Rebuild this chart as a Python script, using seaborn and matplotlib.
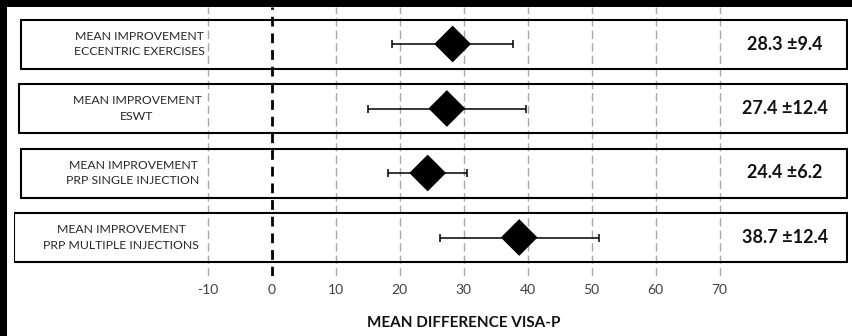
import matplotlib
matplotlib.use("Agg")
import matplotlib.pyplot as plt
from matplotlib.patches import Rectangle
import seaborn as sns
import pandas as pd

# Forest-style summary of mean VISA-P improvement per treatment
treatments = ["ECCENTRIC EXERCISES", "ESWT", "PRP SINGLE INJECTION", "PRP MULTIPLE INJECTIONS"]
mean_diff = [28.3, 27.4, 24.4, 38.7]
sd_diff = [9.4, 12.4, 6.2, 12.4]
x_ticks = [-10, 0, 10, 20, 30, 40, 50, 60, 70]
row_title = "MEAN IMPROVEMENT"
x_label = "MEAN DIFFERENCE VISA-P"

df = pd.DataFrame({"treatment": treatments, "mean": mean_diff, "sd": sd_diff})
df["row"] = range(len(df))

sns.set_theme(style="white")
plt.rcParams["font.family"] = ["Lato", "DejaVu Sans"]

W, H = 852, 336
fig = plt.figure(figsize=(W / 100, H / 100), dpi=100)
fig.patch.set_facecolor("white")

# plotting area, in pixels from the top-left corner
ax_l, ax_r, ax_t, ax_b = 14, 848, 7, 276
ax = fig.add_axes([ax_l / W, 1 - ax_b / H, (ax_r - ax_l) / W, (ax_b - ax_t) / H])
ax.set_facecolor("none")

px_per_unit = 6.4
zero_px = 271.5
row_px = 64.5
first_row_px = 44


def px_to_x(px):
    return (px - zero_px) / px_per_unit


# dashed reference grid and the zero line
for t in x_ticks:
    if t == 0:
        ax.axvline(t, color="black", lw=2.0, ls=(0, (3.5, 2.5)), zorder=1)
    else:
        ax.axvline(t, color="#a8a8a8", lw=1.0, ls=(0, (6, 3)), zorder=0)

# whiskers (± SD) and diamonds for the means
ax.errorbar(df["mean"], df["row"], xerr=df["sd"], fmt="none", ecolor="black",
            elinewidth=1.1, capsize=3, capthick=1.1, zorder=3)
sns.scatterplot(data=df, x="mean", y="row", marker="D", s=350, color="black",
                edgecolor="none", linewidth=0, zorder=4, ax=ax, legend=False)

# one framed panel per treatment
box_left_px = [21, 19, 21, 14]
box_right_px = 847
box_h = 49 / row_px
label_center_px = [139, 137, 133, 121]
value_center_px = 785
for i, row in df.iterrows():
    x0 = px_to_x(box_left_px[i])
    ax.add_patch(Rectangle((x0, row["row"] - box_h / 2), px_to_x(box_right_px) - x0, box_h,
                           fill=False, edgecolor="black", lw=1.5, zorder=2))
    ax.text(px_to_x(label_center_px[i]), row["row"], f"{row_title}\n{row['treatment']}",
            ha="center", va="center", fontsize=8.8, color="#262626", linespacing=1.5, zorder=5)
    ax.text(px_to_x(value_center_px), row["row"], f"{row['mean']:.1f} \u00b1{row['sd']:.1f}",
            ha="center", va="center", fontsize=13, fontweight="bold", color="#111111", zorder=5)

ax.set_xlim(px_to_x(ax_l), px_to_x(ax_r))
ax.set_ylim((ax_b - first_row_px) / row_px, (ax_t - first_row_px) / row_px)
ax.set_xticks(x_ticks)
ax.set_xticklabels([str(t) for t in x_ticks])
ax.set_yticks([])
ax.set_xlabel("")
ax.set_ylabel("")
ax.tick_params(axis="x", length=0, pad=6, labelsize=10, labelcolor="#404040")
for s in ax.spines.values():
    s.set_visible(False)

fig.text(463.5 / W, 1 - 323 / H, x_label, ha="center", va="center",
         fontsize=11, fontweight="bold", color="#111111")

# dark frame strips along the top and left edges
fig.patches.append(Rectangle((0, 1 - 7 / H), 1, 7 / H, transform=fig.transFigure,
                             facecolor="black", edgecolor="none", zorder=10))
fig.patches.append(Rectangle((0, 0), 7 / W, 1, transform=fig.transFigure,
                             facecolor="black", edgecolor="none", zorder=10))

fig.savefig("out.png", dpi=100, facecolor="white")
